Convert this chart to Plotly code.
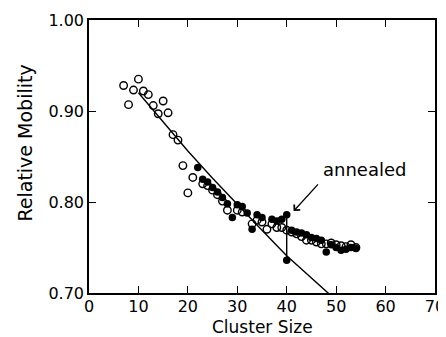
import plotly.graph_objects as go

# Open circles (as-grown)
open_x = [7, 8, 9, 10, 11, 12, 13, 14, 15, 16, 17, 18, 19, 20, 21,
          23, 24, 25, 26, 27, 28, 30, 31, 33, 34, 35, 36, 37, 38, 39, 40,
          41, 42, 43, 44, 45, 46, 47, 48, 49, 50, 51, 52, 53, 54]
open_y = [0.928, 0.907, 0.923, 0.935, 0.922, 0.918, 0.906, 0.897, 0.911, 0.898, 0.874, 0.868, 0.840, 0.810, 0.827,
          0.820, 0.818, 0.813, 0.808, 0.801, 0.791, 0.791, 0.789, 0.776, 0.780, 0.778, 0.770, 0.776, 0.772, 0.772, 0.769,
          0.767, 0.765, 0.762, 0.758, 0.758, 0.756, 0.754, 0.754, 0.755, 0.753, 0.752, 0.751, 0.753, 0.750]

# Filled circles (annealed)
filled_x = [22, 23, 24, 25, 26, 27, 28, 29, 30, 31, 32, 33, 34, 35, 37, 38, 39, 40, 40,
            41, 42, 43, 44, 45, 46, 47, 48, 49, 50, 51, 52, 53, 54]
filled_y = [0.838, 0.825, 0.822, 0.816, 0.811, 0.805, 0.798, 0.783, 0.797, 0.795, 0.788, 0.770, 0.786, 0.783, 0.781, 0.779, 0.781, 0.786, 0.736,
            0.769, 0.767, 0.766, 0.764, 0.761, 0.760, 0.758, 0.745, 0.753, 0.750, 0.747, 0.748, 0.750, 0.749]

# Theoretical curve (read at several points)
curve_x = [10, 15, 20, 25, 30, 35, 40, 45, 50]
curve_y = [0.920, 0.888, 0.856, 0.826, 0.797, 0.769, 0.741, 0.716, 0.692]

# Vertical jump on annealing at size 40
jump_x = [40, 40]
jump_y = [0.786, 0.736]

x_ticks = [0, 10, 20, 30, 40, 50, 60, 70]
y_ticks = [0.70, 0.80, 0.90, 1.00]

FONT = "DejaVu Sans"

fig = go.Figure()
fig.add_trace(go.Scatter(x=curve_x, y=curve_y, mode="lines",
                         line=dict(color="black", width=1.4), showlegend=False))
fig.add_trace(go.Scatter(x=jump_x, y=jump_y, mode="lines",
                         line=dict(color="black", width=1.4), showlegend=False))
fig.add_trace(go.Scatter(x=open_x, y=open_y, mode="markers",
                         marker=dict(symbol="circle-open", size=7.5, color="black",
                                     line=dict(width=1.4, color="black")),
                         showlegend=False))
fig.add_trace(go.Scatter(x=filled_x, y=filled_y, mode="markers",
                         marker=dict(symbol="circle", size=7.5, color="black",
                                     line=dict(width=0)),
                         showlegend=False))

fig.add_annotation(x=55.7, y=0.836, xref="x", yref="y", text="annealed",
                   showarrow=False, font=dict(family=FONT, size=18, color="black"),
                   xanchor="center", yanchor="middle")
fig.add_annotation(x=41.4, y=0.790, xref="x", yref="y", ax=46.6, ay=0.821,
                   axref="x", ayref="y", text="", showarrow=True,
                   arrowhead=4, arrowsize=1.2, arrowwidth=1.3, arrowcolor="black")
fig.add_annotation(x=-0.185, y=0.551, xref="paper", yref="paper", text="Relative Mobility",
                   textangle=-90, showarrow=False,
                   font=dict(family=FONT, size=19, color="black"),
                   xanchor="center", yanchor="middle")
fig.add_annotation(x=0.5, y=-0.1245, xref="paper", yref="paper", text="Cluster Size",
                   showarrow=False, font=dict(family=FONT, size=17, color="black"),
                   xanchor="center", yanchor="middle", borderpad=0)

axis_common = dict(showgrid=False, zeroline=False, showline=True, linecolor="black",
                   linewidth=1.6, mirror="ticks", ticks="inside", ticklen=7,
                   tickwidth=1.3, tickcolor="black", automargin=False,
                   tickfont=dict(family=FONT, size=16, color="black"))

fig.update_xaxes(range=[0, 70], tickvals=x_ticks, ticktext=[str(v) for v in x_ticks],
                 ticklabelstandoff=-2, **axis_common)
fig.update_yaxes(range=[0.70, 1.00], tickvals=y_ticks, ticktext=[f"{v:.2f}" for v in y_ticks],
                 **axis_common)

# page body has an 8px default margin, so the figure is made 8px smaller
fig.update_layout(width=438, height=329,
                  margin=dict(l=81, r=11, t=12, b=44, autoexpand=False),
                  paper_bgcolor="white", plot_bgcolor="white",
                  font=dict(family=FONT, color="black"))

fig.write_html("out.html")
